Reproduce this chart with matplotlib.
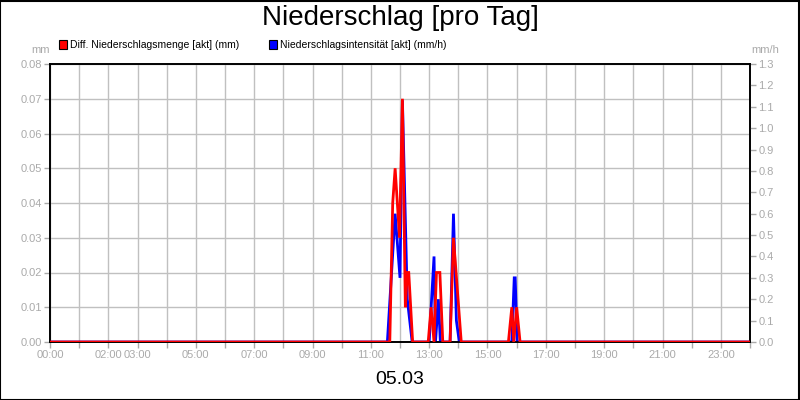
import matplotlib
matplotlib.use("Agg")
import matplotlib.pyplot as plt
from matplotlib.patches import Rectangle

plt.rcParams['font.family'] = ['Liberation Sans Narrow', 'Liberation Sans', 'DejaVu Sans']

# ---- data ----
red_times = ["00:00", "11:39", "11:45", "11:50", "11:59", "12:05", "12:11", "12:15", "12:18", "12:26",
             "12:58", "13:04", "13:10", "13:15", "13:22", "13:28",
             "13:43", "13:50", "14:06",
             "15:43", "15:50", "15:54", "16:00", "16:07", "24:00"]
red_values = [0, 0, 0.04, 0.05, 0.03, 0.07, 0.01, 0.02, 0.02, 0,
              0, 0.01, 0, 0.02, 0.02, 0,
              0, 0.03, 0,
              0, 0.01, 0, 0.01, 0, 0]

blue_times = ["00:00", "11:34", "11:50", "12:00", "12:05", "12:15", "12:25",
              "13:00", "13:10", "13:13", "13:19", "13:23",
              "13:43", "13:50", "13:56", "14:02",
              "15:50", "15:55", "15:57", "16:01", "24:00"]
blue_values = [0, 0, 0.6, 0.3, 1.13, 0.2, 0,
               0, 0.4, 0, 0.2, 0,
               0, 0.6, 0.1, 0,
               0, 0.3, 0.3, 0, 0]

xtick_hours = [0, 2, 3, 5, 7, 9, 11, 13, 15, 17, 19, 21, 23]
xtick_labels = ["00:00", "02:00", "03:00", "05:00", "07:00", "09:00", "11:00",
                "13:00", "15:00", "17:00", "19:00", "21:00", "23:00"]
left_ticks = [0.00, 0.01, 0.02, 0.03, 0.04, 0.05, 0.06, 0.07, 0.08]
right_ticks = [0.0, 0.1, 0.2, 0.3, 0.4, 0.5, 0.6, 0.7, 0.8, 0.9, 1.0, 1.1, 1.2, 1.3]

title = "Niederschlag [pro Tag]"
date_label = "05.03"
red_label = "Diff. Niederschlagsmenge [akt] (mm)"
blue_label = "Niederschlagsintensität [akt] (mm/h)"


def to_hours(t):
    h, m = t.split(":")
    return int(h) + int(m) / 60.0


red_x = [to_hours(t) for t in red_times]
blue_x = [to_hours(t) for t in blue_times]

GRAY = '#aaaaaa'
GRID = '#c0c0c0'

fig = plt.figure(figsize=(8, 4), dpi=100)
fig.patch.set_facecolor('white')
fig.add_artist(Rectangle((0.0005, 0.001), 0.998, 0.997, transform=fig.transFigure,
                         fill=False, edgecolor='black', linewidth=1.5))

ax = fig.add_axes([0.0625, 0.145, 0.875, 0.695])
ax.set_xlim(0, 24)
ax.set_ylim(0, 0.08)
ax.set_yticks(left_ticks)
ax.set_yticklabels([f"{v:.2f}" for v in left_ticks])
ax.set_xticks(xtick_hours)
ax.set_xticklabels(xtick_labels)
ax.set_xticks(list(range(0, 25)), minor=True)
ax.grid(True, which='both', axis='x', color=GRID, linewidth=1)
ax.grid(True, which='major', axis='y', color=GRID, linewidth=1)
ax.tick_params(axis='both', which='both', colors=GRAY, labelcolor=GRAY, labelsize=8,
               length=4, width=1, pad=2)
for s in ax.spines.values():
    s.set_color('black')
    s.set_linewidth(1.2)

ax2 = ax.twinx()
ax2.set_ylim(0, 1.3)
ax2.set_yticks(right_ticks)
ax2.set_yticklabels([f"{v:.1f}" for v in right_ticks])
ax2.tick_params(axis='y', colors=GRAY, labelcolor=GRAY, labelsize=8, length=4, width=1, pad=2)
for s in ax2.spines.values():
    s.set_color('black')
    s.set_linewidth(1.2)
ax2.plot(blue_x, blue_values, color='#0000ff', linewidth=2, solid_joinstyle='miter')

ax3 = ax.twinx()
ax3.set_ylim(0, 0.08)
ax3.set_yticks([])
for s in ax3.spines.values():
    s.set_visible(False)
ax3.plot(red_x, red_values, color='#ff0000', linewidth=2, solid_joinstyle='miter')

fig.text(0.5, 1 - 18 / 400, title, ha='center', va='center', fontsize=20, color='black')
fig.text(0.5, 1 - 379 / 400, date_label, ha='center', va='center', fontsize=14, color='black')
fig.text(40.5 / 800, 1 - 50 / 400, "mm", ha='center', va='center', fontsize=8, color=GRAY)
fig.text(765 / 800, 1 - 50 / 400, "mm/h", ha='center', va='center', fontsize=8, color=GRAY)

# legend
for x0, col, lab in [(58.5, '#ff0000', red_label), (268.5, '#0000ff', blue_label)]:
    fig.add_artist(Rectangle((x0 / 800, 1 - 48.5 / 400), 8 / 800, 8 / 400,
                             transform=fig.transFigure, facecolor=col,
                             edgecolor='black', linewidth=0.8))
    fig.text((x0 + 11) / 800, 1 - 44.5 / 400, lab, ha='left', va='center',
             fontsize=7.5, color='black')

fig.savefig("out.png", dpi=100)
